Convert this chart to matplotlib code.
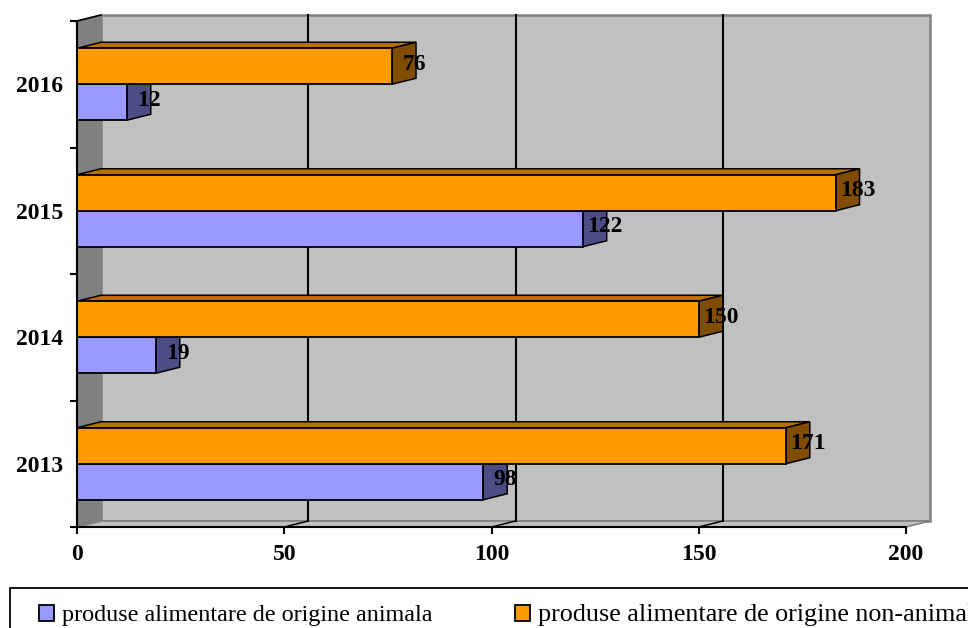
import matplotlib
matplotlib.use("Agg")
import matplotlib.pyplot as plt
from matplotlib.patches import Polygon, Patch, Rectangle

years = ["2013", "2014", "2015", "2016"]
animal = [98, 19, 122, 12]
non_animal = [171, 150, 183, 76]
series_names = ["produse alimentare de origine animala",
                "produse alimentare de origine non-animala"]
x_ticks = [0, 50, 100, 150, 200]

W, H = 968, 628
L, R, T, B = 77, 906, 21, 527
FS = 17
plt.rcParams["font.family"] = ["Liberation Serif", "DejaVu Serif"]
fig = plt.figure(figsize=(W / 100, H / 100), dpi=100)
ax = fig.add_axes([L / W, 1 - B / H, (R - L) / W, (B - T) / H])
ax.set_xlim(0, 200)
ax.set_ylim(0, 4)
ax.patch.set_visible(False)

# depth of the pseudo-3D, px -> data
dx = 24 * 200 / (R - L)
dy = 6 * 4 / (B - T)
bar_h = 36 * 4 / (B - T)

def poly(pts, fc, ec="none", lw=0, z=1):
    ax.add_patch(Polygon(pts, closed=True, facecolor=fc, edgecolor=ec, linewidth=lw,
                         zorder=z, clip_on=False, joinstyle="miter"))

# walls and floor
poly([(dx, dy), (200 + dx, dy), (200 + dx, 4 + dy), (dx, 4 + dy)], "#C0C0C0", "#808080", 1.8, 1)
poly([(0, 0), (200, 0), (200 + dx, dy), (dx, dy)], "#C0C0C0", "#808080", 1.2, 1.1)
poly([(0, 0), (dx, dy), (dx, 4 + dy), (0, 4)], "#808080", "#808080", 1, 1.2)

# gridlines on the back wall and floor
for v in x_ticks[1:-1]:
    ax.plot([v + dx, v + dx], [dy, 4 + dy], color="black", lw=1.5, zorder=1.5, clip_on=False)
    ax.plot([v, v + dx], [0, dy], color="black", lw=1.1, zorder=1.5, clip_on=False)
ax.plot([0, dx], [4, 4 + dy], color="black", lw=1.2, zorder=1.5, clip_on=False)

def bars(values, offset, front, top, side):
    for i, v in enumerate(values):
        y0 = i + 0.5 + offset
        y1 = y0 + bar_h
        poly([(0, y1), (dx, y1 + dy), (v + dx, y1 + dy), (v, y1)], top, "black", 1.1, 3)
        poly([(v, y0), (v + dx, y0 + dy), (v + dx, y1 + dy), (v, y1)], side, "black", 1.1, 3)
    ax.barh([i + 0.5 + offset + bar_h / 2 for i in range(len(values))], values, height=bar_h,
            color=front, edgecolor="black", linewidth=1.3, zorder=3.2)

bars(animal, -bar_h, "#9999FF", "#4D4D85", "#4D4D85")
bars(non_animal, 0, "#FF9900", "#B87000", "#804D00")

# data labels
for vals, off in ((animal, -bar_h / 2), (non_animal, bar_h / 2)):
    for i, v in enumerate(vals):
        ax.annotate(str(v), xy=(v, i + 0.5 + off), xytext=(16, 1.5), textcoords="offset points",
                    ha="center", va="center", fontsize=FS, fontweight="bold",
                    color="black", zorder=5, annotation_clip=False)

for s in ("top", "right"):
    ax.spines[s].set_visible(False)
for s in ("left", "bottom"):
    ax.spines[s].set_linewidth(1.5)
    ax.spines[s].set_zorder(4)

ax.set_xticks(x_ticks)
ax.set_xticklabels([str(v) for v in x_ticks], fontsize=FS, fontweight="bold")
ax.tick_params(axis="x", length=5, width=1.5, pad=7)
ax.set_yticks(range(5))
ax.set_yticklabels([])
ax.tick_params(axis="y", which="major", length=5, width=1.5)
ax.set_yticks([i + 0.5 for i in range(4)], minor=True)
ax.set_yticklabels(years, minor=True, fontsize=FS, fontweight="bold")
ax.tick_params(axis="y", which="minor", length=0, pad=10)

# legend frame runs past the figure edge
fig.add_artist(Rectangle((10 / W, -0.1), 1.1, 1 - 588 / H + 0.1, transform=fig.transFigure,
                         facecolor="white", edgecolor="black", linewidth=1.3))
handles = [Patch(facecolor="#9999FF", edgecolor="black", linewidth=1.3),
           Patch(facecolor="#FF9900", edgecolor="black", linewidth=1.3)]
leg = fig.legend(handles, series_names, loc="upper left", bbox_to_anchor=(39 / W, 1 - 604.5 / H),
                 bbox_transform=fig.transFigure, ncol=2, frameon=False, fontsize=17.35,
                 borderaxespad=0, borderpad=0, handlelength=0.62, handleheight=0.62,
                 handletextpad=0.33, columnspacing=3.43)
leg.get_texts()[1].set_fontsize(18.8)

fig.savefig("out.png", dpi=100)
